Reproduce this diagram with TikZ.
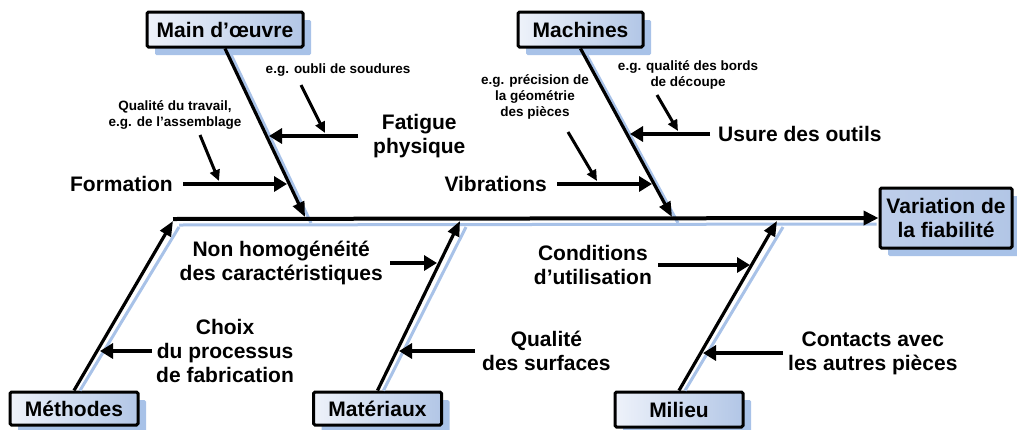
\documentclass[tikz,border=0pt]{standalone}
\usepackage{fontspec}
\setmainfont{Liberation Sans}
\usetikzlibrary{arrows.meta,shadows,calc}
\definecolor{shade}{RGB}{168,194,232}
\definecolor{boxlight}{RGB}{238,242,250}
\definecolor{boxdark}{RGB}{178,198,230}
\definecolor{effectfill}{RGB}{190,206,234}

\begin{document}
\begin{tikzpicture}[x=1pt,y=-1pt,
  cat/.style={draw=black, line width=3pt, rounded corners=1.5pt,
    left color=boxlight, right color=boxdark, inner sep=0pt,
    font=\bfseries\fontsize{21}{24}\selectfont, align=center,
    drop shadow={shadow xshift=8pt, shadow yshift=-8pt, fill=shade, opacity=1}},
  big/.style={font=\bfseries\fontsize{21}{24}\selectfont, align=center, inner sep=0pt},
  small/.style={font=\bfseries\fontsize{13.5}{16}\selectfont, align=center, inner sep=0pt},
  bone/.style={line width=3.2pt, -{Triangle[length=15pt,width=12pt]}},
  branch/.style={line width=4.5pt, -{Triangle[length=13pt,width=15pt]}},
  hint/.style={line width=3pt, -{Triangle[length=11pt,width=10pt]}},
  shadowline/.style={draw=shade, line width=3pt}]

\useasboundingbox (0,0) rectangle (1017,429);

% category boxes and effect box
\node[cat, minimum width=156pt, minimum height=35pt] (mo) at (225,29.5) {Main d’œuvre};
\node[cat, minimum width=125pt, minimum height=35pt] (ma) at (580.5,29.5) {Machines};
\node[cat, minimum width=128pt, minimum height=33pt] (me) at (74,408.5) {Méthodes};
\node[cat, minimum width=128pt, minimum height=33pt] (mt) at (377.5,408.5) {Matériaux};
\node[cat, minimum width=128pt, minimum height=35pt] (mi) at (679,409.5) {Milieu};
\node[cat, minimum width=132pt, minimum height=60pt, left color=effectfill, right color=boxdark] (ef) at (946,218) {Variation de\\la fiabilité};

% points on the spine
\coordinate (sp) at (173,219);
\coordinate (t1) at (305,217);
\coordinate (t2) at (672,217);
\coordinate (t3) at (173,221);
\coordinate (t4) at (460,221);
\coordinate (t5) at (777,221);

% light blue shadows of spine and bones
\draw[shadowline] ([shift={(6,6)}]sp) -- ([shift={(-2,6)}]ef.west);
\draw[shadowline] ([shift={(6,6)}]mo.south) -- ([shift={(6,6)}]t1);
\draw[shadowline] ([shift={(6,6)}]ma.south) -- ([shift={(6,6)}]t2);
\draw[shadowline] ([shift={(6,0)}]me.north) -- ([shift={(6,6)}]t3);
\draw[shadowline] ([shift={(6,0)}]mt.north) -- ([shift={(6,6)}]t4);
\draw[shadowline] ([shift={(6,0)}]mi.north) -- ([shift={(6,6)}]t5);

% spine and bones
\draw[line width=4pt, -{Triangle[length=15pt,width=14pt]}] (sp) -- (ef.west);
\draw[bone] (mo.south) -- (t1);
\draw[bone] (ma.south) -- (t2);
\draw[bone] (me.north) -- (t3);
\draw[bone] (mt.north) -- (t4);
\draw[bone] (mi.north) -- (t5);

% causes
\node[big, anchor=east] (fo) at (173,184) {Formation};
\node[big, anchor=west] (fa) at (373,136) {Fatigue\\physique};
\node[big, anchor=east] (vi) at (547,184) {Vibrations};
\node[big, anchor=west] (us) at (718,134) {Usure des outils};
\node[big, anchor=east] (nh) at (383,263) {Non homogénéité\\des caractéristiques};
\node[big, anchor=west] (ch) at (156,351) {Choix\\du processus\\de fabrication};
\node[big, anchor=west] (qs) at (482,351) {Qualité\\des surfaces};
\node[big, anchor=east] (cu) at (652,265) {Conditions\\d’utilisation};
\node[big, anchor=west] (ct) at (788,353) {Contacts avec\\les autres pièces};

% points where the causes meet the bones
\coordinate (f1) at (287,184);
\coordinate (p1) at (269,136);
\coordinate (v1) at (652,184);
\coordinate (u1) at (630,134);
\coordinate (n1) at (437,263);
\coordinate (c1) at (100,351);
\coordinate (s1) at (399,351);
\coordinate (d1) at (750,265);
\coordinate (k1) at (703,353);

\draw[branch, shorten <=10pt] (fo.east) -- (f1);
\draw[branch, shorten <=15pt] (fa.west) -- (p1);
\draw[branch, shorten <=10pt] (vi.east) -- (v1);
\draw[branch, shorten <=8pt] (us.west) -- (u1);
\draw[branch, shorten <=7pt] (nh.east) -- (n1);
\draw[branch, shorten <=4pt] (ch.west) -- (c1);
\draw[branch, shorten <=7pt] (qs.west) -- (s1);
\draw[branch, shorten <=6pt] (cu.east) -- (d1);
\draw[branch, shorten <=5pt] (ct.west) -- (k1);

% examples
\node[small] (qt) at (175,115) {Qualité du travail,\\e.g. de l’assemblage};
\node[small] (ob) at (338,70) {e.g. oubli de soudures};
\node[small] (pr) at (535,97) {e.g. précision de\\la géométrie\\des pièces};
\node[small] (bd) at (688,75) {e.g. qualité des bords\\de découpe};

\coordinate (h1s) at (200,135); \coordinate (h1e) at (219,181);
\coordinate (h2s) at (301,85);  \coordinate (h2e) at (325,133);
\coordinate (h3s) at (568,132); \coordinate (h3e) at (597,181);
\coordinate (h4s) at (657,95);  \coordinate (h4e) at (678,131);

\draw[hint] (h1s) -- (h1e);
\draw[hint] (h2s) -- (h2e);
\draw[hint] (h3s) -- (h3e);
\draw[hint] (h4s) -- (h4e);

\end{tikzpicture}
\end{document}
